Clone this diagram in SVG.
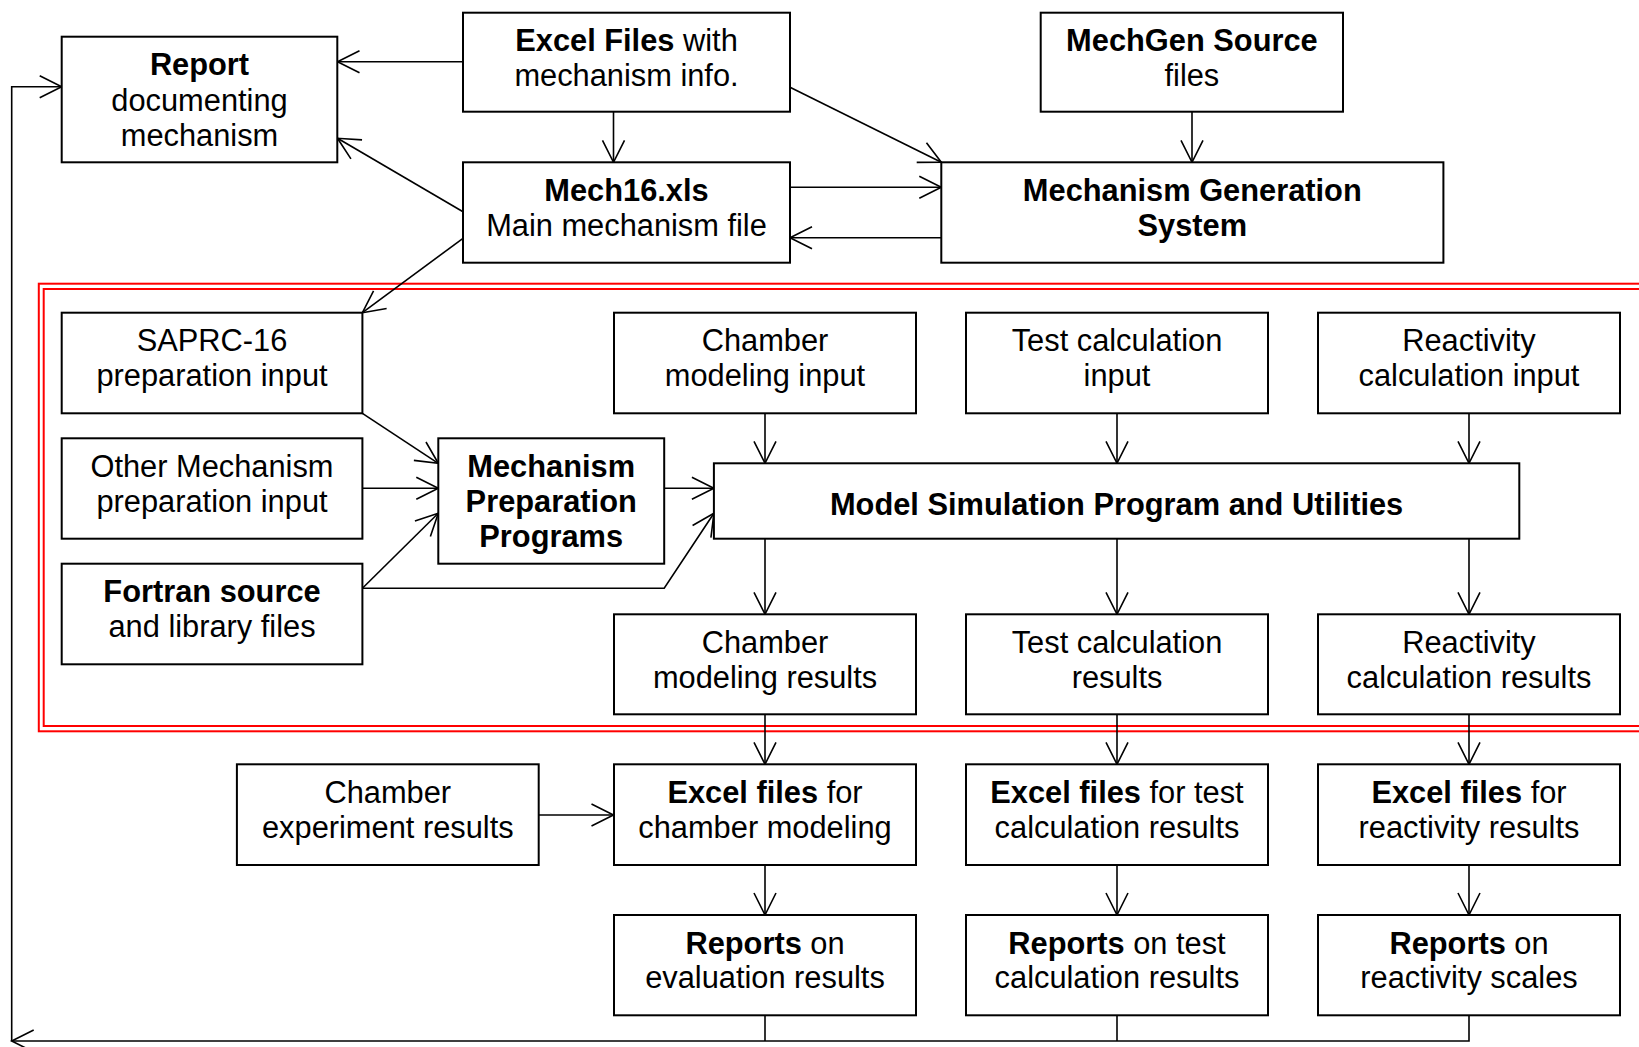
<svg xmlns="http://www.w3.org/2000/svg" width="1639" height="1047" viewBox="0 0 1639 1047">
  <style>
    .box { fill: #ffffff; stroke: #000000; stroke-width: 2; }
    .lbl { font-family: "Liberation Sans", Arial, Helvetica, sans-serif; font-size: 30.8px; fill: #000000; text-anchor: middle; }
    .b { font-weight: bold; }
    .wire { fill: none; stroke: #000000; stroke-width: 1.6; }
    .frame { fill: none; stroke: #ff0000; stroke-width: 2; }
  </style>
  <defs>
    <marker id="arrow" markerUnits="userSpaceOnUse" markerWidth="30" markerHeight="30" viewBox="-26 -15 30 30" refX="0" refY="0" orient="auto">
      <path d="M -22,-11 L 0,0 L -22,11" fill="none" stroke="#000000" stroke-width="1.6"/>
    </marker>
  </defs>

  <rect width="1639" height="1047" fill="#ffffff"/>

  <!-- double red frame around the simulation section -->
  <g id="simulation-frame">
    <rect class="frame" x="38.8" y="283.7" width="1700" height="447.6"/>
    <rect class="frame" x="43.7" y="289" width="1700" height="437"/>
  </g>

  <!-- connectors -->
  <g id="connectors" class="wire">
    <path d="M463,61.7 H337.5" marker-end="url(#arrow)"/>
    <path d="M613.5,111.7 V162.3" marker-end="url(#arrow)"/>
    <path d="M463,211.7 L337.5,138.3" marker-end="url(#arrow)"/>
    <path d="M790,87.3 L941.3,162.3" marker-end="url(#arrow)"/>
    <path d="M790,187.3 H941.3" marker-end="url(#arrow)"/>
    <path d="M941.3,237.7 H790" marker-end="url(#arrow)"/>
    <path d="M1192,111.7 V162.3" marker-end="url(#arrow)"/>
    <path d="M463,238.3 L362.4,312.7" marker-end="url(#arrow)"/>
    <path d="M362.4,413.3 L438.3,463.3" marker-end="url(#arrow)"/>
    <path d="M362.4,488.3 H438.3" marker-end="url(#arrow)"/>
    <path d="M362.4,588.3 L438.3,513.3" marker-end="url(#arrow)"/>
    <path d="M362.4,588.3 H664.2 L713.9,513.3" marker-end="url(#arrow)"/>
    <path d="M664.2,488.3 H713.9" marker-end="url(#arrow)"/>
    <path d="M765,413.3 V463.3" marker-end="url(#arrow)"/>
    <path d="M1117,413.3 V463.3" marker-end="url(#arrow)"/>
    <path d="M1469,413.3 V463.3" marker-end="url(#arrow)"/>
    <path d="M765,538.7 V614.3" marker-end="url(#arrow)"/>
    <path d="M1117,538.7 V614.3" marker-end="url(#arrow)"/>
    <path d="M1469,538.7 V614.3" marker-end="url(#arrow)"/>
    <path d="M765,714.3 V764.3" marker-end="url(#arrow)"/>
    <path d="M1117,714.3 V764.3" marker-end="url(#arrow)"/>
    <path d="M1469,714.3 V764.3" marker-end="url(#arrow)"/>
    <path d="M538.7,815 H613.5" marker-end="url(#arrow)"/>
    <path d="M765,865 V915" marker-end="url(#arrow)"/>
    <path d="M1117,865 V915" marker-end="url(#arrow)"/>
    <path d="M1469,865 V915" marker-end="url(#arrow)"/>
    <path d="M765,1015.3 V1041"/>
    <path d="M1117,1015.3 V1041"/>
    <path d="M1469,1015.3 V1041 H11.7" marker-end="url(#arrow)"/>
    <path d="M11.7,1041 V86.7 H61.7" marker-end="url(#arrow)"/>
  </g>

  <!-- top row: mechanism sources -->
  <g id="report">
    <rect class="box" x="61.7" y="36.7" width="275.6" height="125.6"/>
    <text class="lbl" x="199.5" y="75.2"><tspan class="b">Report</tspan></text>
    <text class="lbl" x="199.5" y="110.7">documenting</text>
    <text class="lbl" x="199.5" y="145.7">mechanism</text>
  </g>
  <g id="excel-files">
    <rect class="box" x="463" y="12.7" width="327" height="99"/>
    <text class="lbl" x="626.5" y="51"><tspan class="b">Excel Files</tspan> with</text>
    <text class="lbl" x="626.5" y="85.5">mechanism info.</text>
  </g>
  <g id="mechgen-source">
    <rect class="box" x="1040.7" y="12.7" width="302.3" height="99"/>
    <text class="lbl" x="1191.9" y="51"><tspan class="b">MechGen Source</tspan></text>
    <text class="lbl" x="1191.9" y="85.5">files</text>
  </g>
  <g id="mech16">
    <rect class="box" x="463" y="162.3" width="327" height="100.4"/>
    <text class="lbl" x="626.5" y="200.7"><tspan class="b">Mech16.xls</tspan></text>
    <text class="lbl" x="626.5" y="235.5">Main mechanism file</text>
  </g>
  <g id="mechanism-generation-system">
    <rect class="box" x="941.3" y="162.3" width="502.1" height="100.4"/>
    <text class="lbl b" x="1192.3" y="200.7">Mechanism Generation</text>
    <text class="lbl b" x="1192.3" y="235.5">System</text>
  </g>

  <!-- preparation inputs -->
  <g id="saprc16-input">
    <rect class="box" x="61.7" y="312.7" width="300.7" height="100.6"/>
    <text class="lbl" x="212" y="351.2">SAPRC-16</text>
    <text class="lbl" x="212" y="386">preparation input</text>
  </g>
  <g id="other-mechanism-input">
    <rect class="box" x="61.7" y="438.3" width="300.7" height="100.4"/>
    <text class="lbl" x="212" y="476.8">Other Mechanism</text>
    <text class="lbl" x="212" y="511.6">preparation input</text>
  </g>
  <g id="fortran-source">
    <rect class="box" x="61.7" y="563.7" width="300.7" height="100.6"/>
    <text class="lbl" x="212" y="602.2"><tspan class="b">Fortran source</tspan></text>
    <text class="lbl" x="212" y="637">and library files</text>
  </g>
  <g id="mechanism-preparation-programs">
    <rect class="box" x="438.3" y="438.3" width="225.9" height="125.4"/>
    <text class="lbl b" x="551.2" y="476.8">Mechanism</text>
    <text class="lbl b" x="551.2" y="512.3">Preparation</text>
    <text class="lbl b" x="551.2" y="547.3">Programs</text>
  </g>

  <!-- simulation inputs -->
  <g id="chamber-modeling-input">
    <rect class="box" x="614" y="312.7" width="302" height="100.6"/>
    <text class="lbl" x="765" y="351.2">Chamber</text>
    <text class="lbl" x="765" y="386">modeling input</text>
  </g>
  <g id="test-calculation-input">
    <rect class="box" x="966" y="312.7" width="302" height="100.6"/>
    <text class="lbl" x="1117" y="351.2">Test calculation</text>
    <text class="lbl" x="1117" y="386">input</text>
  </g>
  <g id="reactivity-calculation-input">
    <rect class="box" x="1318" y="312.7" width="302" height="100.6"/>
    <text class="lbl" x="1469" y="351.2">Reactivity</text>
    <text class="lbl" x="1469" y="386">calculation input</text>
  </g>

  <g id="model-simulation">
    <rect class="box" x="713.9" y="463.3" width="805.4" height="75.4"/>
    <text class="lbl b" x="1116.6" y="515">Model Simulation Program and Utilities</text>
  </g>

  <!-- simulation results -->
  <g id="chamber-modeling-results">
    <rect class="box" x="614" y="614.3" width="302" height="100"/>
    <text class="lbl" x="765" y="652.8">Chamber</text>
    <text class="lbl" x="765" y="687.6">modeling results</text>
  </g>
  <g id="test-calculation-results">
    <rect class="box" x="966" y="614.3" width="302" height="100"/>
    <text class="lbl" x="1117" y="652.8">Test calculation</text>
    <text class="lbl" x="1117" y="687.6">results</text>
  </g>
  <g id="reactivity-calculation-results">
    <rect class="box" x="1318" y="614.3" width="302" height="100"/>
    <text class="lbl" x="1469" y="652.8">Reactivity</text>
    <text class="lbl" x="1469" y="687.6">calculation results</text>
  </g>

  <!-- spreadsheets -->
  <g id="chamber-experiment-results">
    <rect class="box" x="236.9" y="764.3" width="301.8" height="100.7"/>
    <text class="lbl" x="387.8" y="802.8">Chamber</text>
    <text class="lbl" x="387.8" y="837.6">experiment results</text>
  </g>
  <g id="excel-chamber-modeling">
    <rect class="box" x="614" y="764.3" width="302" height="100.7"/>
    <text class="lbl" x="765" y="802.8"><tspan class="b">Excel files</tspan> for</text>
    <text class="lbl" x="765" y="837.6">chamber modeling</text>
  </g>
  <g id="excel-test-calculation">
    <rect class="box" x="966" y="764.3" width="302" height="100.7"/>
    <text class="lbl" x="1117" y="802.8"><tspan class="b">Excel files</tspan> for test</text>
    <text class="lbl" x="1117" y="837.6">calculation results</text>
  </g>
  <g id="excel-reactivity">
    <rect class="box" x="1318" y="764.3" width="302" height="100.7"/>
    <text class="lbl" x="1469" y="802.8"><tspan class="b">Excel files</tspan> for</text>
    <text class="lbl" x="1469" y="837.6">reactivity results</text>
  </g>

  <!-- reports -->
  <g id="reports-evaluation">
    <rect class="box" x="614" y="915" width="302" height="100.3"/>
    <text class="lbl" x="765" y="953.5"><tspan class="b">Reports</tspan> on</text>
    <text class="lbl" x="765" y="988.3">evaluation results</text>
  </g>
  <g id="reports-test-calculation">
    <rect class="box" x="966" y="915" width="302" height="100.3"/>
    <text class="lbl" x="1117" y="953.5"><tspan class="b">Reports</tspan> on test</text>
    <text class="lbl" x="1117" y="988.3">calculation results</text>
  </g>
  <g id="reports-reactivity">
    <rect class="box" x="1318" y="915" width="302" height="100.3"/>
    <text class="lbl" x="1469" y="953.5"><tspan class="b">Reports</tspan> on</text>
    <text class="lbl" x="1469" y="988.3">reactivity scales</text>
  </g>
</svg>
